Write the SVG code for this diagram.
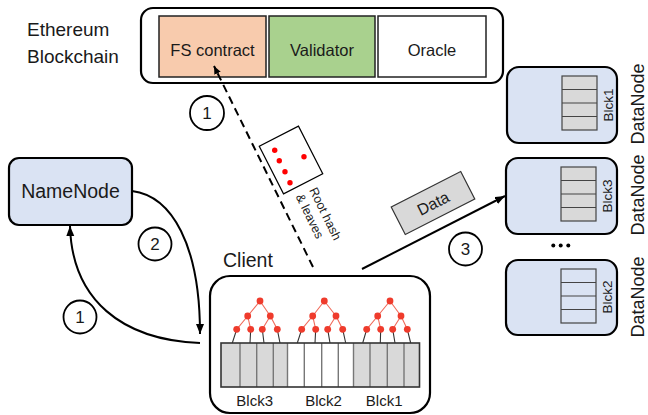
<svg xmlns="http://www.w3.org/2000/svg" width="648" height="415" viewBox="0 0 648 415">
<defs>
<style>
text{font-family:"Liberation Sans",Arial,sans-serif;fill:#1a1a1a}
.box{stroke:#000;stroke-width:2.2}
.inner{stroke:#222;stroke-width:1.5}
.num{font-size:17px;text-anchor:middle}
.circ{fill:#fff;stroke:#000;stroke-width:1.8}
.conn{fill:none;stroke:#000;stroke-width:2}
.dot{fill:#ef3b2c}
.tl{stroke:#f06a5a;stroke-width:1.1}
.ll{stroke:#333;stroke-width:1.1}
.cell{stroke:#444;stroke-width:1.2}
.sep{stroke:#777;stroke-width:1.4}
</style>
<marker id="ah" markerUnits="userSpaceOnUse" markerWidth="12" markerHeight="10" refX="10" refY="4" orient="auto">
<path d="M0,0 L10,4 L0,8 Z" fill="#000"/>
</marker>
<marker id="ahs" markerUnits="userSpaceOnUse" markerWidth="10" markerHeight="8" refX="8" refY="3.5" orient="auto">
<path d="M0,0 L8,3.5 L0,7 Z" fill="#000"/>
</marker>
</defs>

<g id="blockchain">
<text x="27" y="36" font-size="19">Ethereum</text>
<text x="27" y="63" font-size="19">Blockchain</text>
<rect class="box" x="141" y="8" width="362" height="75" rx="12" fill="#fff" stroke-width="2.5"/>
<g id="fs-contract">
<rect class="inner" x="159" y="16" width="107" height="61" fill="#f8cbad"/>
<text x="212.5" y="56" font-size="16.5" text-anchor="middle">FS contract</text>
</g>
<g id="validator">
<rect class="inner" x="269" y="16" width="106" height="61" fill="#a9d18e"/>
<text x="322" y="56" font-size="16.5" text-anchor="middle">Validator</text>
</g>
<g id="oracle">
<rect class="inner" x="378" y="16" width="108" height="61" fill="#fff"/>
<text x="432" y="56" font-size="16.5" text-anchor="middle">Oracle</text>
</g>
</g>

<g id="namenode">
<rect class="box" x="9" y="158" width="123" height="67" rx="10" fill="#dae3f3"/>
<text x="70.5" y="198" font-size="19.5" text-anchor="middle">NameNode</text>
</g>

<g id="client">
<text x="223" y="267" font-size="19.5">Client</text>
<rect class="box" x="210" y="276" width="220" height="137" rx="20" fill="#fff"/>
<g id="blocks">
<rect x="221" y="343" width="66.5" height="44" fill="#d9d9d9"/>
<rect x="287.5" y="343" width="66" height="44" fill="#fff"/>
<rect x="353.5" y="343" width="66" height="44" fill="#d9d9d9"/>
<path class="sep" d="M240,343V387M256.7,343V387M273.3,343V387M287.5,343V387M304.3,343V387M321.7,343V387M338.3,343V387M353.5,343V387M370,343V387M387.3,343V387M404,343V387"/>
<rect x="221" y="343" width="198.5" height="44" fill="none" stroke="#333" stroke-width="1.6"/>
</g>
<g id="trees">
<path class="ll" d="M236.7,329.3L232.3,343M250.7,329.3L250,343M262.3,329.3L264,343M277.3,329.3L280,343M301.7,329.3L297.3,343M315.7,329.3L315,343M327.7,329.3L330,343M342.7,329.3L345.7,343M366.7,329.3L362.7,343M380.7,329.3L380.3,343M392.7,329.3L395,343M407.3,329.3L410.7,343"/>
<path class="tl" d="M260,301L247.7,316M260,301L270.3,316M247.7,316L236.7,329.3M247.7,316L250.7,329.3M270.3,316L262.3,329.3M270.3,316L277.3,329.3M324.3,301L312.7,316M324.3,301L336,316M312.7,316L301.7,329.3M312.7,316L315.7,329.3M336,316L327.7,329.3M336,316L342.7,329.3M390,301L377.7,316M390,301L401,316M377.7,316L366.7,329.3M377.7,316L380.7,329.3M401,316L392.7,329.3M401,316L407.3,329.3"/>
<g class="dot">
<circle cx="260" cy="301" r="3.4"/><circle cx="247.7" cy="316" r="3.4"/><circle cx="270.3" cy="316" r="3.4"/>
<circle cx="236.7" cy="329.3" r="3.4"/><circle cx="250.7" cy="329.3" r="3.4"/><circle cx="262.3" cy="329.3" r="3.4"/><circle cx="277.3" cy="329.3" r="3.4"/>
<circle cx="324.3" cy="301" r="3.4"/><circle cx="312.7" cy="316" r="3.4"/><circle cx="336" cy="316" r="3.4"/>
<circle cx="301.7" cy="329.3" r="3.4"/><circle cx="315.7" cy="329.3" r="3.4"/><circle cx="327.7" cy="329.3" r="3.4"/><circle cx="342.7" cy="329.3" r="3.4"/>
<circle cx="390" cy="301" r="3.4"/><circle cx="377.7" cy="316" r="3.4"/><circle cx="401" cy="316" r="3.4"/>
<circle cx="366.7" cy="329.3" r="3.4"/><circle cx="380.7" cy="329.3" r="3.4"/><circle cx="392.7" cy="329.3" r="3.4"/><circle cx="407.3" cy="329.3" r="3.4"/>
</g>
</g>
<text x="254.7" y="406" font-size="15" text-anchor="middle">Blck3</text>
<text x="323.5" y="406" font-size="15" text-anchor="middle">Blck2</text>
<text x="384.2" y="406" font-size="15" text-anchor="middle">Blck1</text>
</g>

<g id="datanode1">
<rect class="box" x="507" y="67" width="110" height="76" rx="12" fill="#dae3f3"/>
<rect class="cell" x="562" y="76" width="35" height="54" fill="#d9d9d9"/>
<path class="cell" d="M562,89.5H597M562,103H597M562,116.5H597"/>
<text transform="translate(612.5,105) rotate(-90)" font-size="13.5" text-anchor="middle">Blck1</text>
<text transform="translate(644,104) rotate(-90)" font-size="18" text-anchor="middle">DataNode</text>
</g>
<g id="datanode2">
<rect class="box" x="506" y="158" width="111" height="76" rx="12" fill="#dae3f3"/>
<rect class="cell" x="561" y="167" width="35" height="54" fill="#d9d9d9"/>
<path class="cell" d="M561,180.5H596M561,194H596M561,207.5H596"/>
<text transform="translate(611.5,196) rotate(-90)" font-size="13.5" text-anchor="middle">Blck3</text>
<text transform="translate(644,195) rotate(-90)" font-size="18" text-anchor="middle">DataNode</text>
</g>
<g id="ellipsis">
<circle cx="553.3" cy="245.5" r="2"/><circle cx="560.7" cy="245.5" r="2"/><circle cx="568.3" cy="245.5" r="2"/>
</g>
<g id="datanode3">
<rect class="box" x="506" y="260" width="111" height="75" rx="12" fill="#dae3f3"/>
<rect class="cell" x="561" y="269" width="35" height="54" fill="#dae3f3"/>
<path class="cell" d="M561,282.5H596M561,296H596M561,309.5H596"/>
<text transform="translate(611.5,297) rotate(-90)" font-size="13.5" text-anchor="middle">Blck2</text>
<text transform="translate(644,297) rotate(-90)" font-size="18" text-anchor="middle">DataNode</text>
</g>

<g id="roothash">
<rect transform="translate(291,160) rotate(-27)" x="-22" y="-26.75" width="44" height="53.5" fill="#fff" stroke="#000" stroke-width="1.2"/>
<g fill="#f00">
<circle cx="274.7" cy="150.3" r="2.7"/><circle cx="279.3" cy="160.7" r="2.7"/><circle cx="285" cy="171.7" r="2.7"/><circle cx="290" cy="182.7" r="2.7"/><circle cx="304" cy="156.7" r="2.7"/>
</g>
<text transform="translate(309,190) rotate(64)" font-size="12.5">Root hash<tspan x="0" y="15">&amp; leaves</tspan></text>
</g>

<g id="data">
<rect transform="translate(433,203) rotate(-27)" x="-39" y="-15.5" width="78" height="31" fill="#d9d9d9" stroke="#333" stroke-width="1.2"/>
<text transform="translate(433,203) rotate(-27)" y="6" font-size="16" text-anchor="middle">Data</text>
</g>

<g id="connectors">
<path class="conn" d="M313,267 L214,66" stroke-dasharray="8,5" stroke-width="2.2" marker-end="url(#ahs)"/>
<path class="conn" d="M132,191 C172,196 200,245 200,334" marker-end="url(#ah)"/>
<path class="conn" d="M200,343 C122,340 72,300 70,226" marker-end="url(#ah)"/>
<path class="conn" d="M362,269 L505,196" marker-end="url(#ah)"/>
</g>

<g id="labels">
<circle class="circ" cx="207" cy="113" r="17"/><text class="num" x="207" y="119">1</text>
<circle class="circ" cx="155" cy="244" r="16.5"/><text class="num" x="155" y="250">2</text>
<circle class="circ" cx="80" cy="317" r="16.5"/><text class="num" x="80" y="323">1</text>
<circle class="circ" cx="465.5" cy="249" r="16.5"/><text class="num" x="465.5" y="255">3</text>
</g>
</svg>
